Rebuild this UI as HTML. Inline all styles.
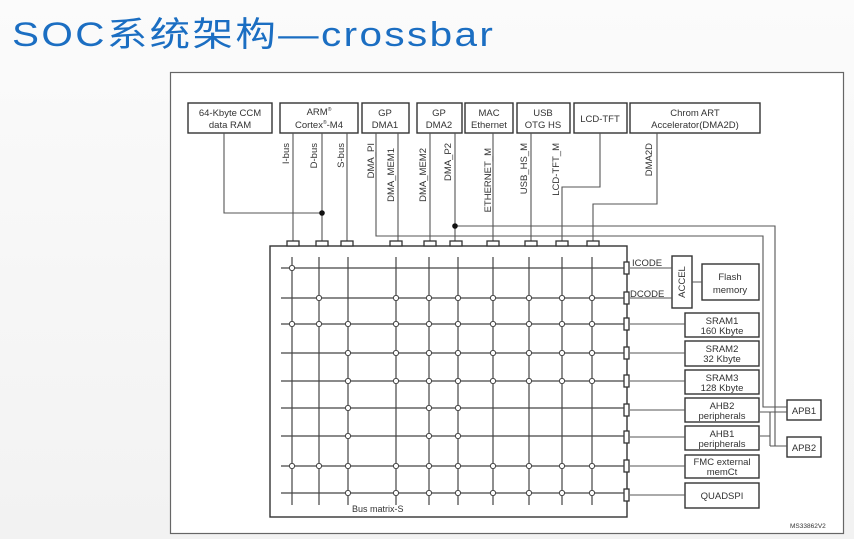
<!DOCTYPE html>
<html><head><meta charset="utf-8"><style>
html,body{margin:0;padding:0;}
body{width:854px;height:539px;background:linear-gradient(#fbfbfb,#f2f2f2);overflow:hidden;position:relative;font-family:"Liberation Sans",sans-serif;}
.t{position:absolute;left:12px;top:7px;font-size:34px;color:#1b6ec2;font-family:"Liberation Sans","Noto Sans CJK SC",sans-serif;letter-spacing:2px;white-space:nowrap;transform:scaleX(1.19);transform-origin:0 0;}
svg{position:absolute;left:0;top:0;}
text{font-family:"Liberation Sans",sans-serif;fill:#333;}
</style></head><body>
<div class="t">SOC系统架构—crossbar</div>
<svg width="854" height="539" viewBox="0 0 854 539">
<rect x="170.5" y="72.5" width="673" height="461" fill="#fff" stroke="#666" stroke-width="1.2"/>
<g fill="none" stroke="#333" stroke-width="1.4">
<rect x="188" y="103" width="84" height="30"/>
<rect x="280" y="103" width="78" height="30"/>
<rect x="362" y="103" width="47" height="30"/>
<rect x="417" y="103" width="45" height="30"/>
<rect x="465" y="103" width="48" height="30"/>
<rect x="517" y="103" width="53" height="30"/>
<rect x="574" y="103" width="53" height="30"/>
<rect x="630" y="103" width="130" height="30"/>
<rect x="270" y="246" width="357" height="271"/>
<rect x="672" y="256" width="20" height="52"/>
<rect x="702" y="264" width="57" height="36"/>
<rect x="685" y="313" width="74" height="24"/>
<rect x="685" y="341" width="74" height="25"/>
<rect x="685" y="370" width="74" height="24"/>
<rect x="685" y="398" width="74" height="24"/>
<rect x="685" y="426" width="74" height="24"/>
<rect x="685" y="455" width="74" height="23"/>
<rect x="685" y="483" width="74" height="25"/>
<rect x="787" y="400" width="34" height="20"/>
<rect x="787" y="437" width="34" height="20"/>
</g>
<g fill="none" stroke="#555" stroke-width="1.1">
<path d="M224 133V213H322"/>
<path d="M293 133V241M322 133V241M347 133V241"/>
<path d="M376 133V236H763V407H787"/>
<path d="M398 133V241M430 133V241M455 133V241"/>
<path d="M455 226H775V446H787"/>
<path d="M493 133V241M531 133V241"/>
<path d="M600 133V187H562V241"/>
<path d="M657 133V204H593V241"/>
<path d="M760 412H770M760 436H770M770 412V446M770 412H787M770 446H787"/>
<path d="M630 268H672M630 298H672M692 282H702"/>
<path d="M630 324H685M630 353H685M630 381H685M630 410H685M630 437H685M630 466H685M630 495H685"/>
</g>
<g fill="#fff" stroke="#333" stroke-width="1.3">
<rect x="287" y="241" width="12" height="5"/><rect x="316" y="241" width="12" height="5"/><rect x="341" y="241" width="12" height="5"/>
<rect x="390" y="241" width="12" height="5"/><rect x="424" y="241" width="12" height="5"/><rect x="450" y="241" width="12" height="5"/>
<rect x="487" y="241" width="12" height="5"/><rect x="525" y="241" width="12" height="5"/><rect x="556" y="241" width="12" height="5"/><rect x="587" y="241" width="12" height="5"/>
<rect x="624" y="262" width="5" height="12"/><rect x="624" y="292" width="5" height="12"/><rect x="624" y="318" width="5" height="12"/>
<rect x="624" y="347" width="5" height="12"/><rect x="624" y="375" width="5" height="12"/><rect x="624" y="404" width="5" height="12"/>
<rect x="624" y="431" width="5" height="12"/><rect x="624" y="460" width="5" height="12"/><rect x="624" y="489" width="5" height="12"/>
</g>
<g stroke="#444" stroke-width="1.2" fill="none">
<path d="M281 268H624M281 298H624M281 324H624M281 353H624M281 381H624M281 408H624M281 436H624M281 466H624M281 493H624"/>
<path d="M292 257V505M319 257V505M348 257V505M396 257V505M429 257V505M458 257V505M493 257V505M529 257V505M562 257V505M592 257V505"/>
</g>
<g fill="#fff" stroke="#444" stroke-width="1">
<circle cx="292" cy="268" r="2.6"/>
<g id="r1"><circle cx="319" cy="298" r="2.6"/><circle cx="396" cy="298" r="2.6"/><circle cx="429" cy="298" r="2.6"/><circle cx="458" cy="298" r="2.6"/><circle cx="493" cy="298" r="2.6"/><circle cx="529" cy="298" r="2.6"/><circle cx="562" cy="298" r="2.6"/><circle cx="592" cy="298" r="2.6"/></g>
<circle cx="292" cy="324" r="2.6"/><circle cx="319" cy="324" r="2.6"/>
<g id="r2"><circle cx="348" cy="324" r="2.6"/><circle cx="396" cy="324" r="2.6"/><circle cx="429" cy="324" r="2.6"/><circle cx="458" cy="324" r="2.6"/><circle cx="493" cy="324" r="2.6"/><circle cx="529" cy="324" r="2.6"/><circle cx="562" cy="324" r="2.6"/><circle cx="592" cy="324" r="2.6"/></g>
<use href="#r2" y="29"/><use href="#r2" y="57"/>
<circle cx="348" cy="408" r="2.6"/><circle cx="429" cy="408" r="2.6"/><circle cx="458" cy="408" r="2.6"/>
<circle cx="348" cy="436" r="2.6"/><circle cx="429" cy="436" r="2.6"/><circle cx="458" cy="436" r="2.6"/>
<circle cx="292" cy="466" r="2.6"/><circle cx="319" cy="466" r="2.6"/>
<use href="#r2" y="142"/><use href="#r2" y="169"/>
</g>
<circle cx="322" cy="213" r="2.8" fill="#111"/>
<circle cx="455" cy="226" r="2.8" fill="#111"/>
<g font-size="9.5" text-anchor="middle">
<text x="230" y="116">64-Kbyte CCM</text><text x="230" y="128">data RAM</text>
<text x="319" y="115">ARM<tspan font-size="5" dy="-4">®</tspan></text><text x="319" y="128">Cortex<tspan font-size="5" dy="-4">®</tspan><tspan dy="4">-M4</tspan></text>
<text x="385" y="116">GP</text><text x="385" y="128">DMA1</text>
<text x="439" y="116">GP</text><text x="439" y="128">DMA2</text>
<text x="489" y="116">MAC</text><text x="489" y="128">Ethernet</text>
<text x="543" y="116">USB</text><text x="543" y="128">OTG HS</text>
<text x="600" y="122">LCD-TFT</text>
<text x="695" y="116">Chrom ART</text><text x="695" y="128">Accelerator(DMA2D)</text>
<text x="730" y="280">Flash</text><text x="730" y="293">memory</text>
<text x="722" y="324">SRAM1</text><text x="722" y="334">160 Kbyte</text>
<text x="722" y="352">SRAM2</text><text x="722" y="362">32 Kbyte</text>
<text x="722" y="381">SRAM3</text><text x="722" y="391">128 Kbyte</text>
<text x="722" y="409">AHB2</text><text x="722" y="419">peripherals</text>
<text x="722" y="437">AHB1</text><text x="722" y="447">peripherals</text>
<text x="722" y="465">FMC external</text><text x="722" y="475">memCt</text>
<text x="722" y="499">QUADSPI</text>
<text x="804" y="414">APB1</text><text x="804" y="451">APB2</text>
<text x="0" y="0" transform="translate(685,282) rotate(-90)">ACCEL</text>
</g>
<g font-size="9.5">
<text x="632" y="266">ICODE</text><text x="630" y="297">DCODE</text>
<text x="352" y="512" font-size="9">Bus matrix-S</text>
<text x="790" y="528" font-size="6.5">MS33862V2</text>
</g>
<g font-size="9.5" text-anchor="end">
<text transform="translate(289,143) rotate(-90)">I-bus</text>
<text transform="translate(317,143) rotate(-90)">D-bus</text>
<text transform="translate(344,143) rotate(-90)">S-bus</text>
<text transform="translate(374,143) rotate(-90)">DMA_PI</text>
<text transform="translate(394,148) rotate(-90)">DMA_MEM1</text>
<text transform="translate(426,148) rotate(-90)">DMA_MEM2</text>
<text transform="translate(451,143) rotate(-90)">DMA_P2</text>
<text transform="translate(491,148) rotate(-90)">ETHERNET_M</text>
<text transform="translate(527,143) rotate(-90)">USB_HS_M</text>
<text transform="translate(559,143) rotate(-90)">LCD-TFT_M</text>
<text transform="translate(652,143) rotate(-90)">DMA2D</text>
</g>
</svg>
</body></html>
